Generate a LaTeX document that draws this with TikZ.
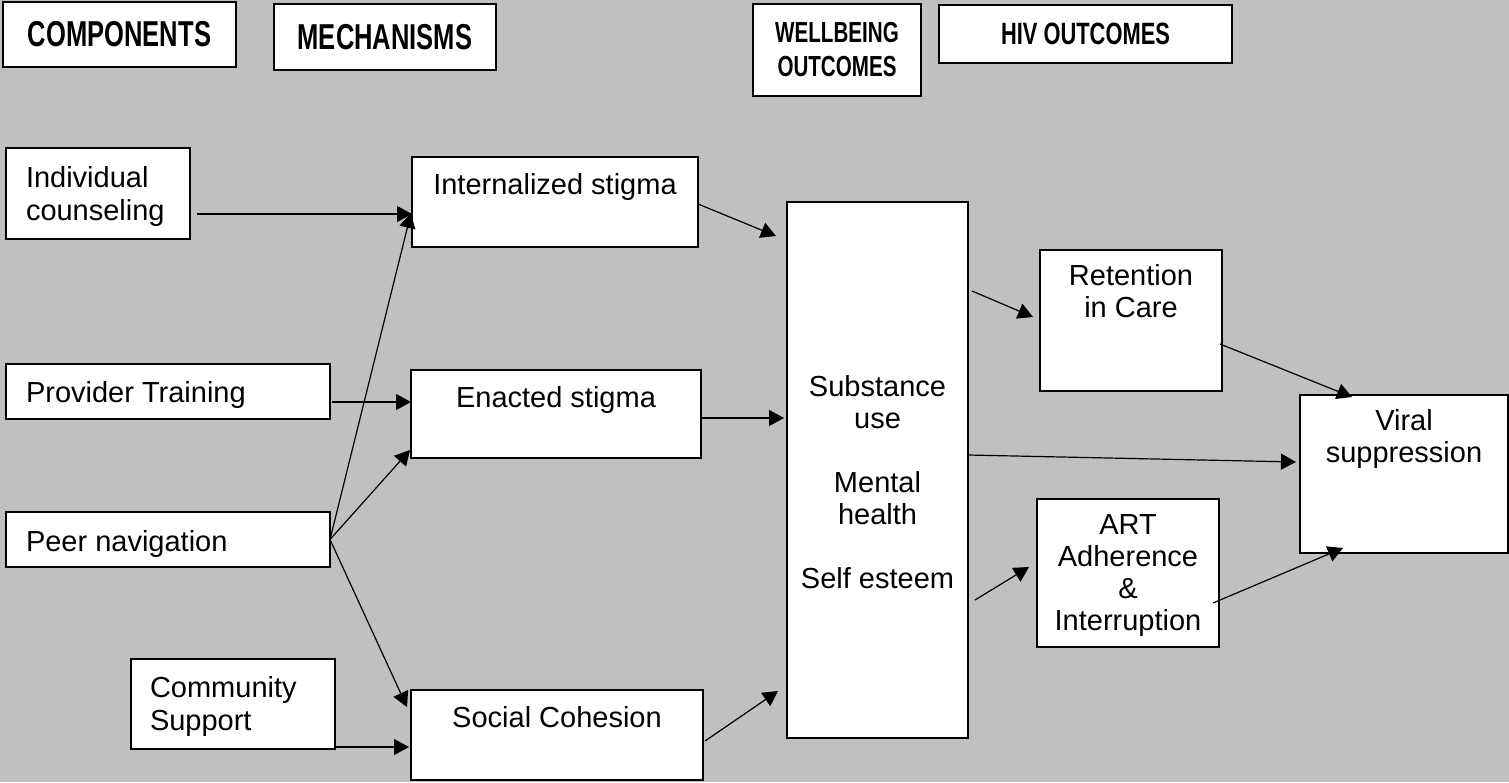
\documentclass[tikz,border=0pt]{standalone}
\usepackage{fontspec}
\setmainfont{Liberation Sans}
\usetikzlibrary{arrows.meta,calc}
\definecolor{bgc}{RGB}{192,192,192}
% bold, horizontally condensed heading text: #1 = size in pt
\newcommand{\hdtext}[2]{\scalebox{0.71}[1]{\fontsize{#1}{#1}\selectfont\bfseries #2}}

\begin{document}
\begin{tikzpicture}[x=0.5pt,y=-0.5pt,
  box/.style={draw=black, line width=1pt, fill=white, inner sep=0pt, outer sep=0pt},
  sz/.style 2 args={minimum width=#1*0.5pt, minimum height=#2*0.5pt},
  txt/.style={inner sep=0pt, outer sep=0pt, font=\fontsize{14.5}{16}\selectfont},
  arr/.style={line width=0.6pt, -{Triangle[length=7.5pt,width=8pt]}}]

\fill[bgc] (0,0) rectangle (1509,782);
\useasboundingbox (0,0) rectangle (1509,782);

% column headings
\node[box, sz={233}{65}] (hcomp) at (119.5,34.5) {\hdtext{18}{COMPONENTS}};
\node[box, sz={222}{66}] (hmech) at (385,37) {\hdtext{18}{MECHANISMS}};
\node[box, sz={168}{92}, align=center, font=\fontsize{14.5}{17}\selectfont] (hwell) at (837,50)
  {\hdtext{14.5}{WELLBEING}\\\hdtext{14.5}{OUTCOMES}};
\node[box, sz={293}{58}] (hhiv) at (1085.5,34) {\hdtext{15.4}{HIV OUTCOMES}};

% components
\node[box, sz={184}{91}] (ic) at (98,193.5) {};
\node[box, sz={324}{55}] (pt) at (168,391.5) {};
\node[box, sz={324}{55}] (pn) at (168,539.5) {};
\node[box, sz={204}{90}] (cs) at (233,704) {};

% mechanisms
\node[box, sz={286}{90}] (is) at (555,202) {};
\node[box, sz={290}{88}] (es) at (556,414) {};
\node[box, sz={292}{90}] (sc) at (557,735) {};

% wellbeing outcomes
\node[box, sz={181}{536}] (wb) at (877.5,470) {};

% HIV outcomes
\node[box, sz={182}{141}] (rc) at (1131,320.5) {};
\node[box, sz={182}{148}] (art) at (1128,573) {};
\node[box, sz={208}{158}] (vs) at (1404,474) {};

% box texts (multi-line texts are placed by the baseline of their last line)
\node[txt, anchor=base west, align=left, font=\fontsize{14.5}{16.5}\selectfont] (t-ic) at (26,220) {Individual\\counseling};
\node[txt, anchor=base west] (t-pt) at (26,402) {Provider Training};
\node[txt, anchor=base west] (t-pn) at (26,551) {Peer navigation};
\node[txt, anchor=base west, align=left, font=\fontsize{14.5}{16.5}\selectfont] (t-cs) at (150,730) {Community\\Support};
\node[txt, anchor=base] (t-is) at (555,194) {Internalized stigma};
\node[txt, anchor=base] (t-es) at (556,407) {Enacted stigma};
\node[txt, anchor=base] (t-sc) at (557,727) {Social Cohesion};
\node[txt, anchor=base, align=center] (t-wb) at (877.5,588)
  {Substance\\use\\[16pt]Mental\\health\\[16pt]Self esteem};
\node[txt, anchor=base, align=center] (t-rc) at (1131,317) {Retention\\in Care};
\node[txt, anchor=base, align=center] (t-art) at (1128,630) {ART\\Adherence\\\&\\Interruption};
\node[txt, anchor=base, align=center] (t-vs) at (1404,462) {Viral\\suppression};

% connectors
\draw[arr] ($(ic.east)+(7,20.5)$) -- ($(is.west)+(0,12)$);
\draw[arr] ($(pt.east)+(2,10.5)$) -- ($(es.west)+(0,-12)$);
\draw[arr] (pn.east) -- ($(is.west)+(-1,11)$);
\draw[arr] (pn.east) -- ($(es.south west)+(-1,-8)$);
\draw[arr] (pn.east) -- ($(sc.north west)+(-4,17)$);
\draw[arr] ($(cs.south east)+(0,-2)$) -- ($(sc.west)+(-2,12)$);
\draw[arr] ($(is.east)+(0,2)$) -- ($(wb.north west)+(-11,34)$);
\draw[arr] ($(es.east)+(0,4)$) -- ($(wb.west)+(-3,-52)$);
\draw[arr] ($(sc.east)+(2,6)$) -- ($(wb.south west)+(-9,-47)$);
\draw[arr] ($(wb.north east)+(4,89)$) -- ($(rc.west)+(-7,-3.5)$);
\draw[arr] ($(wb.east)+(0,-15)$) -- ($(vs.west)+(-4,-12)$);
\draw[arr] ($(wb.south east)+(7,-138)$) -- ($(art.west)+(-8,-6)$);
\draw[arr] ($(rc.east)+(-2,23.5)$) -- ($(vs.north)+(-52,2)$);
\draw[arr] ($(art.east)+(-6,30)$) -- ($(vs.south)+(-61,-5)$);
\end{tikzpicture}
\end{document}
